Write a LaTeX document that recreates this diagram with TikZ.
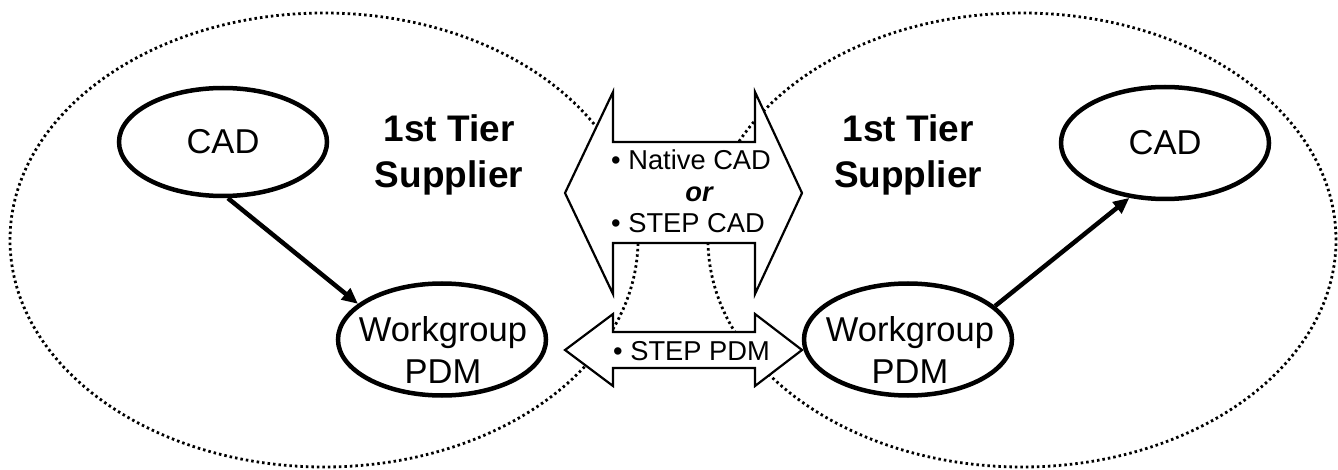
\documentclass[tikz,border=0pt]{standalone}
\usepackage{fontspec}
\setmainfont{Liberation Sans}
\usetikzlibrary{shapes.geometric,arrows.meta}
\begin{document}
\begin{tikzpicture}[x=1pt,y=-1pt,
  zone/.style={ellipse, draw, line width=2.8pt, dash pattern=on 2.5pt off 3pt,
    minimum width=628pt, minimum height=454pt, inner sep=0pt},
  oval/.style={ellipse, draw, line width=4.5pt, inner sep=0pt,
    font=\fontsize{34.5}{40}\selectfont},
  flow/.style={-{Triangle[length=16pt,width=14pt]}, line width=4.5pt},
  xfer/.style={draw, fill=white, line width=2.2pt, line join=miter},
  lbl/.style={inner sep=0pt, anchor=base, font=\fontsize{34.5}{40}\selectfont},
  tier/.style={inner sep=0pt, anchor=base, font=\bfseries\fontsize{37}{42}\selectfont},
  fmt/.style={inner sep=0pt, anchor=base west, font=\fontsize{27.3}{31}\selectfont}]

\useasboundingbox (0,0) rectangle (1338,470);

% the two supplier zones
\node[zone] (zoneL) at (324,240) {};
\node[zone] (zoneR) at (1022,240) {};

% CAD exchange: wide double arrow
\draw[xfer] (565,193) -- (613,92) -- (613,142) -- (755,142) -- (755,92)
  -- (802,193) -- (755,294) -- (755,243) -- (613,243) -- (613,294) -- cycle;
% PDM exchange: narrow double arrow
\draw[xfer] (565,350) -- (613,314) -- (613,332) -- (755,332) -- (755,314)
  -- (802,350) -- (755,386) -- (755,368) -- (613,368) -- (613,386) -- cycle;

\node[fmt] (fmtA) at (611,170) {• Native CAD};
\node[inner sep=0pt, anchor=base, font=\bfseries\itshape\fontsize{27.3}{31}\selectfont]
  (fmtOr) at (699,202) {or};
\node[fmt] (fmtB) at (611,233) {• STEP CAD};
\node[fmt] (fmtC) at (613,360) {• STEP PDM};

% left supplier
\node[oval, minimum width=208pt, minimum height=108pt] (cadL) at (223,142) {CAD};
\node[oval, minimum width=208pt, minimum height=112pt] (wgL) at (442,339.5) {};
\node[lbl] (wgLa) at (443,341) {Workgroup};
\node[lbl] (wgLb) at (443,383) {PDM};
\node[tier] (tierLa) at (449,142) {1st Tier};
\node[tier] (tierLb) at (449,188) {Supplier};

% right supplier
\node[oval, minimum width=208pt, minimum height=112pt] (cadR) at (1165,143) {CAD};
\node[oval, minimum width=208pt, minimum height=112pt] (wgR) at (908,339.5) {};
\node[lbl] (wgRa) at (910,341) {Workgroup};
\node[lbl] (wgRb) at (910,383) {PDM};
\node[tier] (tierRa) at (908,142) {1st Tier};
\node[tier] (tierRb) at (908,188) {Supplier};

% data flow inside each supplier
\draw[flow] (cadL.-85) -- (wgL.157);
\draw[flow] (wgR.21) -- (cadR.237);
\end{tikzpicture}
\end{document}
